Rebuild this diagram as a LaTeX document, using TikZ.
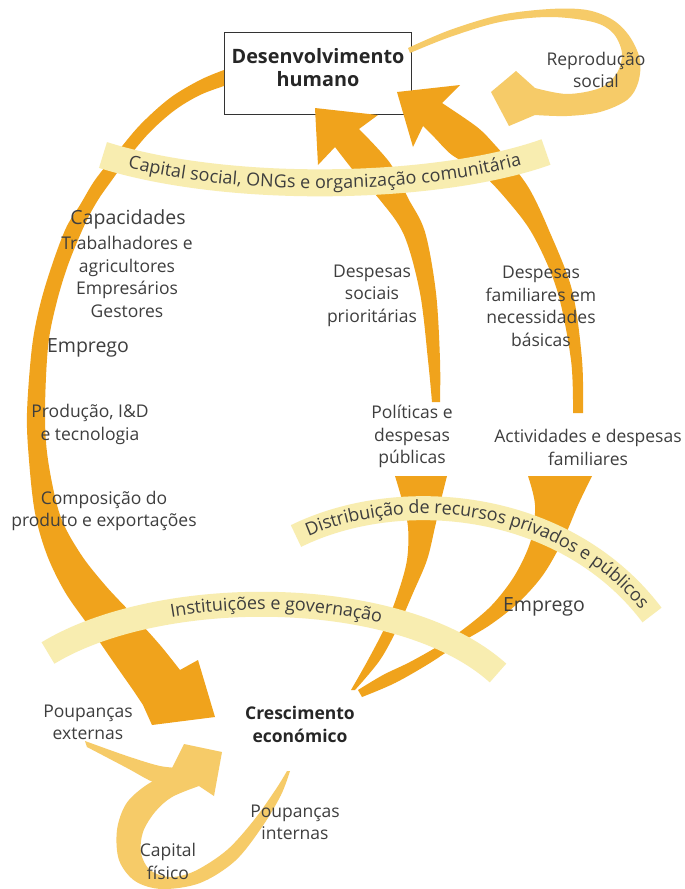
\documentclass[tikz,border=0pt]{standalone}
\usepackage{fontspec}
\setmainfont{Open Sans}
\usetikzlibrary{decorations.text}

\definecolor{mainorange}{RGB}{240,163,28}
\definecolor{softorange}{RGB}{246,203,104}
\definecolor{bandyellow}{RGB}{248,237,176}
\definecolor{textgray}{RGB}{62,62,62}
\definecolor{titlegray}{RGB}{38,38,38}

\newcommand\lblfont{\fontsize{17.5}{22.5}\selectfont}
\newcommand\bigfont{\fontsize{19.5}{23}\selectfont}
\newcommand\bandfont{\fontsize{18}{20}\selectfont\color{textgray}}

\tikzset{
  lbl/.style={text=textgray, align=center, font=\lblfont, inner sep=0pt},
  lblbig/.style={lbl, font=\bigfont},
  titletext/.style={text=titlegray, align=center, font=\bfseries\fontsize{19.8}{23}\selectfont, inner sep=0pt},
  band/.style={draw=bandyellow, line width=#1},
  band/.default=26pt,
  flow/.style={fill=mainorange},
  softflow/.style={fill=softorange},
  bandtext/.style={decorate, decoration={text along path, text align=center, raise=-5.5pt, text={|\bandfont|#1}}},
}

\begin{document}
\begin{tikzpicture}[x=1pt, y=-1pt]
\useasboundingbox[fill=white] (0,0) rectangle (685,889);

% box for human development
\node[draw=black!80, line width=0.9pt, fill=white, minimum width=187pt, minimum height=82pt, inner sep=0pt] (dhbox) at (317.5,73) {};

% social reproduction loop
\fill[softflow] plot[smooth, tension=0.55] coordinates {(408,48) (450,30) (500,15) (550,9) (587,10) (613,20) (630,37) (640,60) (638,83) (627,100) (600,112) (567,116) (535,115)}
  -- (509,126) -- (491,92) -- (516,71)
  -- plot[smooth, tension=0.55] coordinates {(535,88) (567,94) (600,88) (617,73) (622,53) (613,33) (593,22) (550,17) (500,22) (450,37) (410,53)} -- cycle;

% long left arc from the box down to growth
\fill[flow] plot[smooth, tension=0.55] coordinates {(224,70) (200,80) (170,98) (140,125) (115,155) (95,180) (80,205) (66,228) (52,265) (40,305) (32,347) (27,413) (29,460) (35,513) (47,555) (65,592) (88,625) (112,660) (133,690) (143,705)}
  -- (152,725) -- (215,717) -- (198,660)
  -- plot[smooth, tension=0.55] coordinates {(180,670) (160,645) (133,615) (105,585) (80,553) (60,515) (48,460) (45,413) (48,347) (56,305) (68,265) (85,224) (98,200) (112,180) (128,158) (150,132) (175,110) (200,95) (224,86)} -- cycle;

% social spending arrow (upper part)
\fill[flow] (315,108) -- (378,115) -- (359,129)
  -- plot[smooth, tension=0.55] coordinates {(359,129) (390,163) (408,198) (425,232) (436,293) (440,360) (440,402)}
  -- (432,402)
  -- plot[smooth, tension=0.55] coordinates {(432,402) (428,360) (420,293) (404,235) (380,200) (357,175) (335,147)}
  -- (318,165) -- cycle;

% household spending arrow (upper part)
\fill[flow] (397,92) -- (460,85) -- (442,103)
  -- plot[smooth, tension=0.55] coordinates {(442,103) (477,127) (495,145) (512,165) (530,190) (548,228) (572,290) (582,360) (583,413)}
  -- (573,413)
  -- plot[smooth, tension=0.55] coordinates {(573,413) (571,360) (557,290) (533,235) (507,200) (480,172) (452,155) (435,138) (423,126)}
  -- (413,147) -- cycle;

% public policy branch (lower part)
\fill[flow] plot[smooth, tension=0.55] coordinates {(395,476) (402,500) (408,527) (407,560) (398,593) (385,627) (368,660) (351,690)}
  -- plot[smooth, tension=0.55] coordinates {(355,690) (380,660) (398,627) (413,593) (427,560) (435,527) (441,500) (447,476)} -- cycle;

% household activity branch (lower part)
\fill[flow] plot[smooth, tension=0.55] coordinates {(528,476) (535,505) (531,540) (515,575) (492,605) (465,628) (440,645) (410,662) (383,675) (358,690)}
  -- plot[smooth, tension=0.55] coordinates {(362,697) (395,683) (430,663) (460,643) (490,625) (518,603) (543,575) (563,540) (578,505) (592,476)} -- cycle;

% physical capital loop
\fill[softflow] plot[smooth, tension=0.55] coordinates {(290,771) (281,795) (262,827) (235,861) (200,883) (162,889) (135,881) (119,860) (117,830) (126,804) (145,786) (170,772)}
  -- (184,744) -- (222,752) -- (214,796)
  -- plot[smooth, tension=0.55] coordinates {(199,786) (172,797) (155,812) (143,832) (141,853) (150,870) (170,877) (195,871) (227,850) (254,820) (276,789) (287,771)} -- cycle;
% external savings feed
\fill[softflow] plot[smooth, tension=0.55] coordinates {(85,741) (127,756) (160,766) (182,768)}
  -- plot[smooth, tension=0.55] coordinates {(178,790) (153,782) (127,768) (87,747)} -- cycle;

% bands
\draw[band=27pt] (103,155) .. controls (230,195) and (440,190) .. (546,152);
\path[bandtext={Capital social, ONGs e organização comunitária}] (103,155) .. controls (230,195) and (440,190) .. (546,152);

\draw[band=24pt] (296,536) .. controls (400,485) and (565,500) .. (652,615);
\path[bandtext={Distribuição de recursos privados e públicos}] (296,536) .. controls (400,485) and (565,500) .. (652,615);

\draw[band=25pt] (48,653) .. controls (160,585) and (400,585) .. (498,673);
\path[bandtext={Instituições e governação}] (48,653) .. controls (160,585) and (400,585) .. (498,673);

% labels
\node[titletext] (dh) at (318,68) {Desenvolvimento\\humano};
\node[lbl] (repro) at (596,70) {Reprodução\\social};
\node[lblbig] (capac) at (128,219) {Capacidades};
\node[lbl] (agents) at (127,277) {Trabalhadores e\\agricultores\\Empresários\\Gestores};
\node[lblbig] (empl) at (88,348) {Emprego};
\node[lbl] (prod) at (90,424.5) {Produção, I\&D\\e tecnologia};
\node[lbl] (comp) at (104,511) {Composição do\\produto e exportações};
\node[lbl] (dsoc) at (372,295.5) {Despesas\\sociais\\prioritárias};
\node[lbl] (dfam) at (541,306.5) {Despesas\\familiares em\\necessidades\\básicas};
\node[lbl] (pol) at (412,436.5) {Políticas e\\despesas\\públicas};
\node[lbl] (act) at (588,447.5) {Actividades e despesas\\familiares};
\node[lblbig] (empr) at (544,607) {Emprego};
\node[titletext, font=\bfseries\fontsize{17.5}{23}\selectfont] (ce) at (300,724.5) {Crescimento\\económico};
\node[lbl] (pext) at (88,722.5) {Poupanças\\externas};
\node[lbl] (pint) at (295,822.5) {Poupanças\\internas};
\node[lbl] (capf) at (168,861.5) {Capital\\físico};
\end{tikzpicture}
\end{document}
